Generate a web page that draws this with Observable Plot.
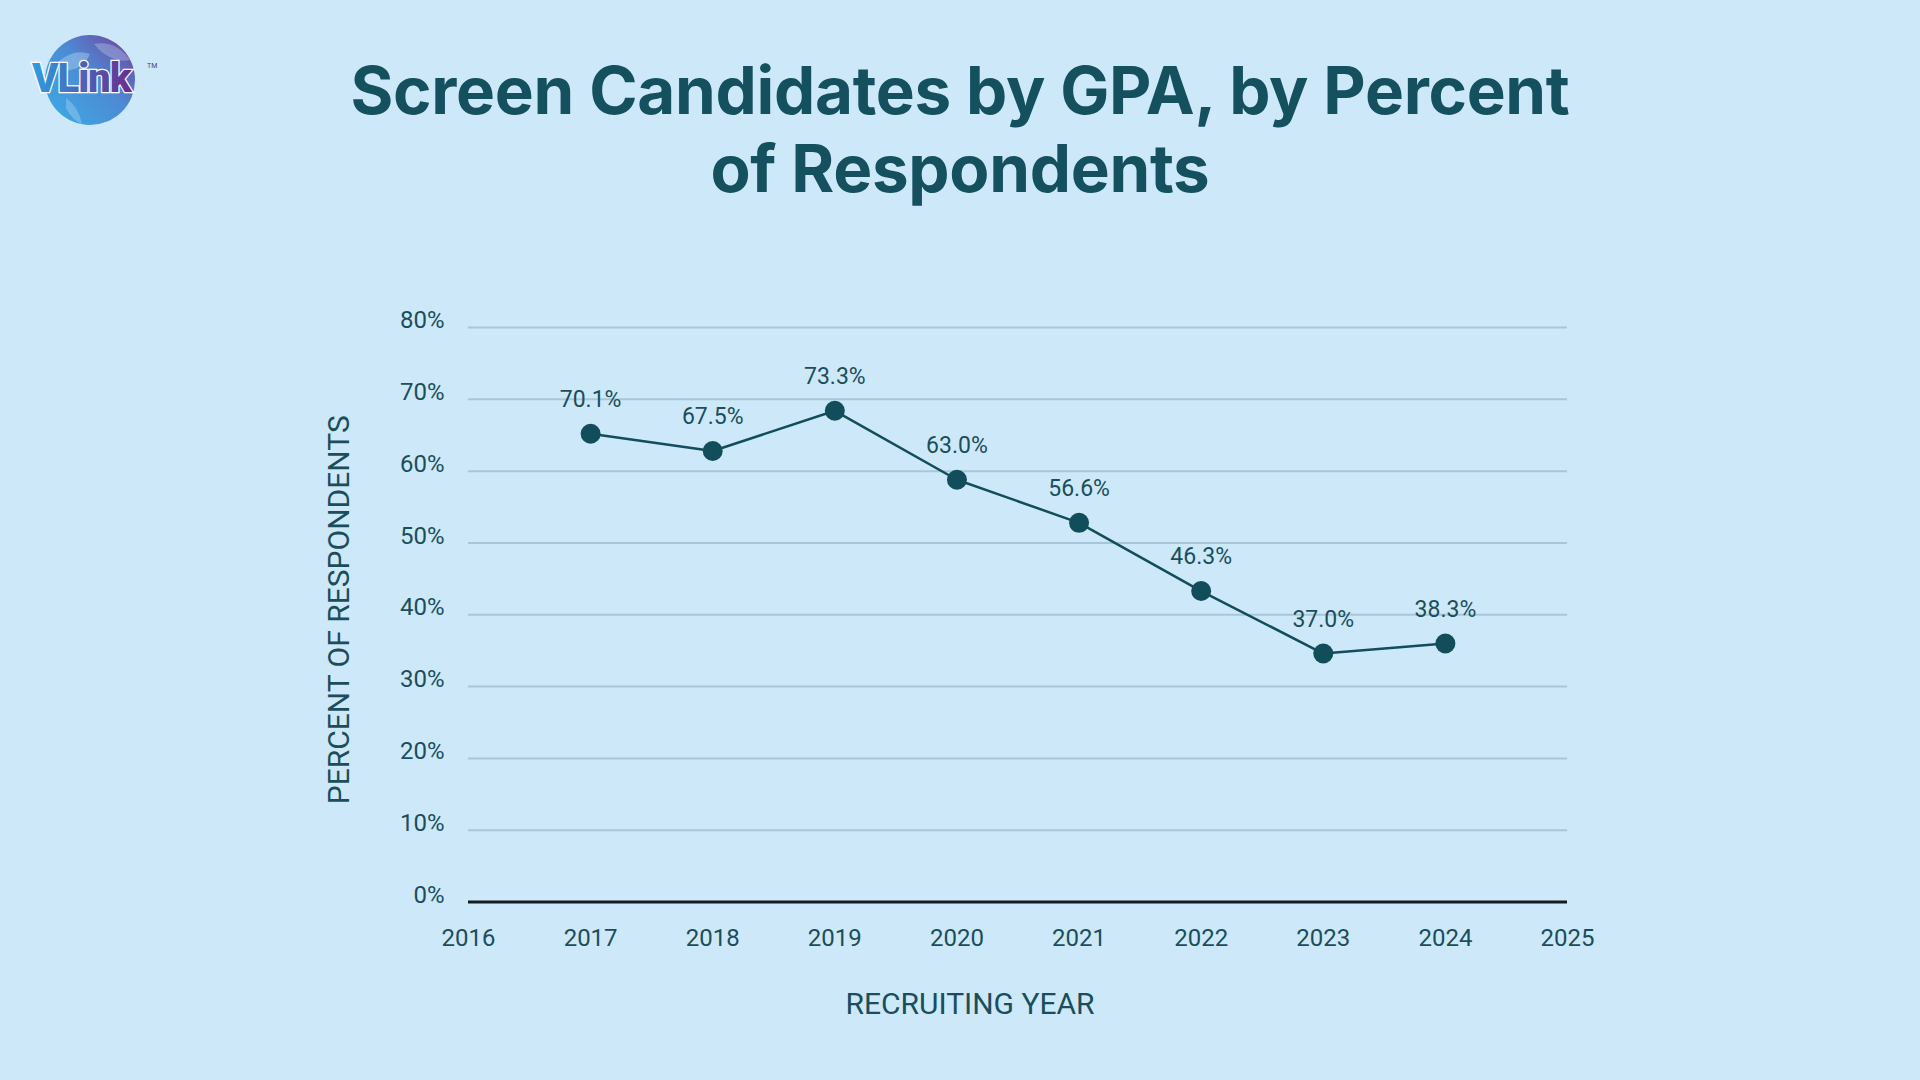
<!DOCTYPE html>
<html>
<head>
<meta charset="utf-8">
<script src="https://cdn.jsdelivr.net/npm/d3@7"></script>
<script src="https://cdn.jsdelivr.net/npm/@observablehq/plot@0.6"></script>
<style>
  html, body { margin: 0; padding: 0; }
  body { width: 1920px; height: 1080px; background: #cde9f9; position: relative; overflow: hidden; font-family: Roboto, "Open Sans", sans-serif; }
  #title { position: absolute; left: 0; width: 1920px; top: 52px; text-align: center; font-family: Inter, Roboto, sans-serif; font-weight: 700; font-size: 65.5px; line-height: 78px; color: #14505e; letter-spacing: -0.3px; }
  #logo { position: absolute; left: 30px; top: 30px; }
  #chart { position: absolute; left: 0; top: 250px; }
</style>
</head>
<body>
<svg id="logo" width="140" height="100" viewBox="0 0 140 100">
  <defs>
    <linearGradient id="globe" x1="0" y1="1" x2="1" y2="0">
      <stop offset="0" stop-color="#2aa6e3"/>
      <stop offset="0.55" stop-color="#3f7fd0"/>
      <stop offset="1" stop-color="#6b2a8f"/>
    </linearGradient>
    <linearGradient id="word" x1="0" y1="0" x2="1" y2="0">
      <stop offset="0" stop-color="#2c9fe0"/>
      <stop offset="1" stop-color="#6b2a8f"/>
    </linearGradient>
  </defs>
  <circle cx="60" cy="50" r="45" fill="url(#globe)" opacity="0.9"/>
  <path d="M28 32 Q44 18 60 24 Q54 38 40 40 Q33 44 28 32 Z" fill="#cde9f9" opacity="0.35"/>
  <path d="M64 14 Q86 10 100 30 Q90 32 82 28 Q72 24 64 14 Z" fill="#cde9f9" opacity="0.3"/>
  <path d="M36 68 Q48 76 52 94 Q42 90 36 78 Z" fill="#cde9f9" opacity="0.3"/>
  <text x="2" y="62" font-family="Roboto, sans-serif" font-weight="900" font-size="40" fill="url(#word)" stroke="#ffffff" stroke-width="2.5" paint-order="stroke" letter-spacing="-1">VLink</text>
  <text x="117" y="38" font-family="Roboto, sans-serif" font-size="7" fill="#4a3a8a">TM</text>
</svg>
<div id="title">Screen Candidates by GPA, by Percent<br>of Respondents</div>
<div id="chart"></div>
<script>
const years = [2017, 2018, 2019, 2020, 2021, 2022, 2023, 2024];
const plottedValues = [65.2, 62.8, 68.4, 58.8, 52.8, 43.3, 34.6, 36.0];
const valueLabels = ["70.1%", "67.5%", "73.3%", "63.0%", "56.6%", "46.3%", "37.0%", "38.3%"];
const xTicks = [2016, 2017, 2018, 2019, 2020, 2021, 2022, 2023, 2024, 2025];
const yTicks = [0, 10, 20, 30, 40, 50, 60, 70, 80];
const xTitle = "RECRUITING YEAR";
const yTitle = "PERCENT OF RESPONDENTS";

const data = years.map((year, i) => ({year, value: plottedValues[i], label: valueLabels[i]}));

const ink = "#1a4e5c";
const lineColor = "#124d5c";

const chart = Plot.plot({
  width: 1920,
  height: 830,
  marginLeft: 468,
  marginRight: 353,
  marginTop: 77,
  marginBottom: 178.5,
  style: {background: "transparent", fontFamily: "Roboto, sans-serif", color: ink, fontSize: "24px"},
  x: {domain: [2016, 2025]},
  y: {domain: [0, 80]},
  marks: [
    Plot.ruleY(yTicks.filter(d => d > 0), {stroke: "#a7c7d8", strokeWidth: 2}),
    Plot.ruleY([0], {stroke: "#101c22", strokeWidth: 3}),
    Plot.axisX({ticks: xTicks, tickFormat: d => String(d), tickSize: 0, tickPadding: 27, label: null, fontSize: 24, fill: ink}),
    Plot.axisY({ticks: yTicks, tickFormat: d => d + "%", tickSize: 0, tickPadding: 24, label: null, fontSize: 24, dy: -7, fill: ink}),
    Plot.line(data, {x: "year", y: "value", stroke: lineColor, strokeWidth: 2.5}),
    Plot.dot(data, {x: "year", y: "value", r: 10, fill: lineColor, stroke: "none"}),
    Plot.text(data, {x: "year", y: "value", text: "label", dy: -34, fill: ink, fontSize: 23}),
    Plot.text([xTitle], {frameAnchor: "bottom", text: d => d, textAnchor: "middle", lineAnchor: "middle", dx: -48, dy: 102, fontSize: 30, fill: ink}),
    Plot.text([yTitle], {frameAnchor: "left", text: d => d, rotate: -90, textAnchor: "middle", lineAnchor: "middle", dx: -129, dy: -5, fontSize: 30, fill: ink})
  ]
});
document.getElementById("chart").appendChild(chart);
</script>
</body>
</html>
